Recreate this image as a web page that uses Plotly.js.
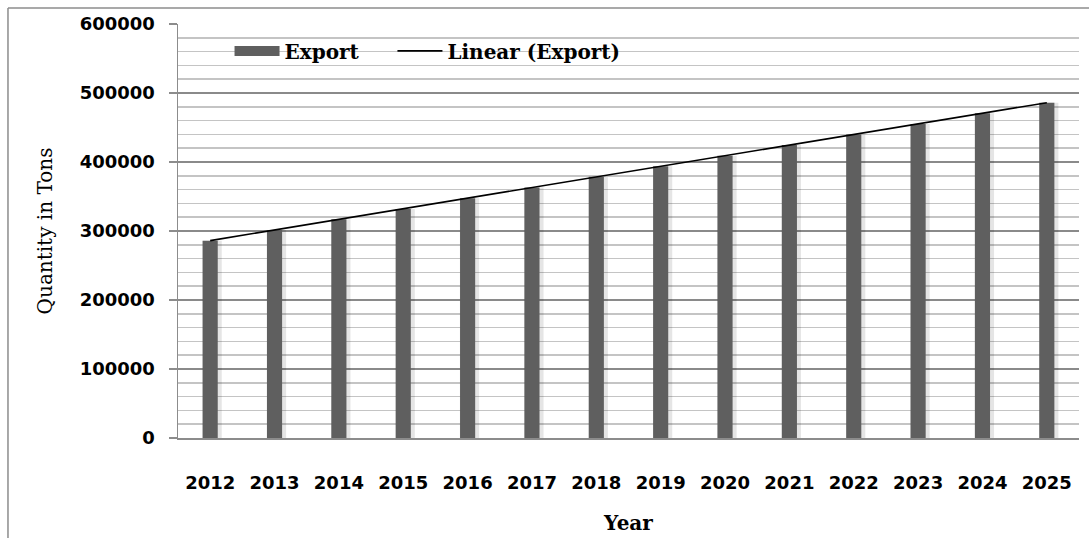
<!DOCTYPE html>
<html>
<head>
<meta charset="utf-8">
<script src="https://cdn.plot.ly/plotly-3.0.1.min.js"></script>
<style>
html,body{margin:0;padding:0;background:#fff;}
#chart{width:1089px;height:538px;}
</style>
</head>
<body>
<div id="chart"></div>
<script>
const years = ["2012","2013","2014","2015","2016","2017","2018","2019","2020","2021","2022","2023","2024","2025"];
const exportTons = [286000,301500,317000,332000,347500,363000,378500,394000,409000,424500,440000,455000,470500,486000];
const yTickVals = [0,100000,200000,300000,400000,500000,600000];
const yTickText = ["0","100000","200000","300000","400000","500000","600000"];

// least-squares linear trend computed from the data
const n = exportTons.length;
const xs = exportTons.map((_, i) => i + 1);
const mx = xs.reduce((a,b)=>a+b,0)/n;
const my = exportTons.reduce((a,b)=>a+b,0)/n;
let sxy = 0, sxx = 0;
for (let i = 0; i < n; i++) { sxy += (xs[i]-mx)*(exportTons[i]-my); sxx += (xs[i]-mx)**2; }
const slope = sxy/sxx, icpt = my - slope*mx;
const trend = xs.map(x => icpt + slope*x);

const serif = "DejaVu Serif, Liberation Serif, serif";
const sans = "DejaVu Sans, sans-serif";
const legFont = {family:serif, size:20, color:"#000", weight:"bold"};

const traces = [
  { type:"bar", x:years, y:exportTons, width:0.3, offset:-0.12,
    marker:{color:"rgba(0,0,0,0.10)", line:{width:0}}, showlegend:false, hoverinfo:"skip" },
  { type:"bar", name:"Export", x:years, y:exportTons, width:0.235, offset:-0.1175,
    marker:{color:"#5f5f5f", line:{width:0}}, showlegend:false, legendgroup:"exp" },
  // legend proxy for the bar series (wide swatch)
  { type:"scatter", mode:"lines", name:"Export", x:[years[0]], y:[null], legendgroup:"exp",
    legend:"legend", line:{color:"#5f5f5f", width:10}, hoverinfo:"skip" },
  { type:"scatter", mode:"lines", name:"Linear (Export)", x:years, y:trend, legend:"legend2",
    line:{color:"#000", width:1.6} }
];

const layout = {
  width:1089, height:538,
  margin:{l:178, r:10, t:24, b:100},
  paper_bgcolor:"#fff", plot_bgcolor:"#fff",
  barmode:"overlay",
  showlegend:true,
  legend:{orientation:"h", x:0.0572, y:0.935, xanchor:"left", yanchor:"middle",
    bgcolor:"rgba(0,0,0,0)", font:legFont, itemwidth:45},
  legend2:{orientation:"h", x:0.238, y:0.935, xanchor:"left", yanchor:"middle",
    bgcolor:"rgba(0,0,0,0)", font:legFont, itemwidth:45},
  xaxis:{type:"category", showgrid:false, showline:true, linecolor:"#8c8c8c", linewidth:1.5,
    ticks:"", ticklabelstandoff:28, tickfont:{family:sans, size:18, color:"#000", weight:"bold"},
    title:{text:"Year", font:{family:serif, size:20, color:"#000", weight:"bold"}, standoff:24},
    automargin:false, fixedrange:true},
  yaxis:{range:[0,600000], tickvals:yTickVals, ticktext:yTickText,
    showline:true, linecolor:"#8c8c8c", linewidth:1.5,
    ticks:"outside", ticklen:8, tickcolor:"#8c8c8c", tickwidth:1.5,
    ticklabelstandoff:10,
    showgrid:true, gridcolor:"#8a8a8a", gridwidth:1.5,
    minor:{dtick:20000, showgrid:true, gridcolor:"#c4c4c4", gridwidth:1.5, ticks:""},
    zeroline:false,
    tickfont:{family:sans, size:18, color:"#000", weight:"bold"},
    title:{text:"Quantity in Tons", font:{family:serif, size:20, color:"#000"}, standoff:21},
    automargin:false, fixedrange:true},
  shapes:[
    {type:"line", xref:"paper", yref:"paper", x0:-0.1887, x1:1.02, y0:1.0386, y1:1.0386, line:{color:"#8c8c8c", width:1.5}},
    {type:"line", xref:"paper", yref:"paper", x0:-0.1887, x1:-0.1887, y0:1.0386, y1:-0.25, line:{color:"#8c8c8c", width:1.5}}
  ]
};

Plotly.newPlot("chart", traces, layout, {displayModeBar:false, staticPlot:true});
</script>
</body>
</html>
